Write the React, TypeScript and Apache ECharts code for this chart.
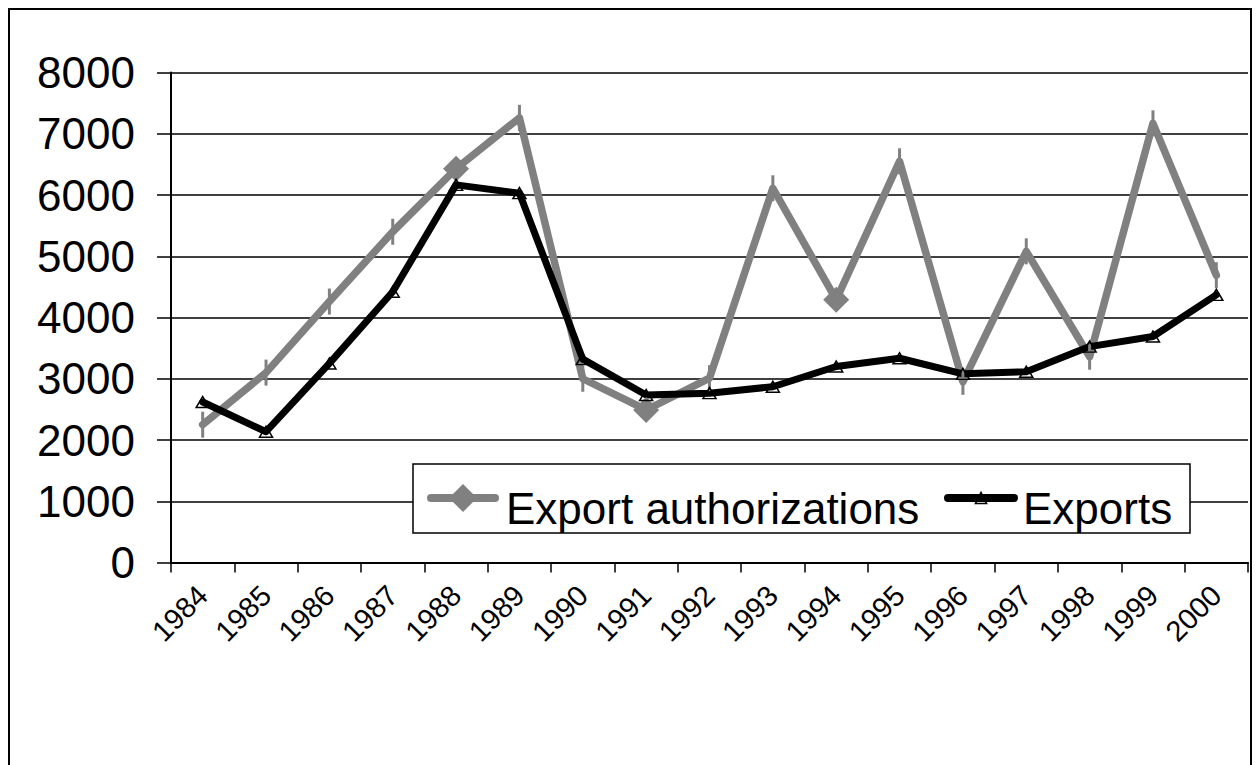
import React, { useEffect, useRef } from "react";
import * as echarts from "echarts";

const years = ["1984", "1985", "1986", "1987", "1988", "1989", "1990", "1991", "1992", "1993", "1994", "1995", "1996", "1997", "1998", "1999", "2000"];
const exportAuthorizations = [2250, 3100, 4260, 5400, 6430, 7260, 3000, 2490, 3010, 6110, 4290, 6550, 2950, 5080, 3360, 7170, 4690];
const exportsValues = [2620, 2135, 3250, 4420, 6165, 6030, 3320, 2735, 2765, 2870, 3200, 3335, 3080, 3115, 3525, 3690, 4370];
const diamondYears = ["1988", "1991", "1994"];
const yMin = 0;
const yMax = 8000;
const yInterval = 1000;
const seriesNames = ["Export authorizations", "Exports"];

const FONT = "'Liberation Sans', Arial, sans-serif";

export default function App() {
  const ref = useRef<HTMLDivElement>(null);
  useEffect(() => {
    document.documentElement.style.overflow = "hidden";
    document.body.style.overflow = "hidden";
    if (!ref.current) return;
    const chart = echarts.init(ref.current, null, { renderer: "svg" });
    const authData = exportAuthorizations.map((v, i) =>
      diamondYears.includes(years[i]) ? { value: v } : { value: v, symbol: "rect", symbolSize: [3, 26] }
    );
    const legendText = (padLeft: number) => ({
      fontSize: 44,
      color: "#000",
      fontFamily: FONT,
      rich: { t: { fontSize: 44, color: "#000", fontFamily: FONT, padding: [20, 0, 0, padLeft] } },
    });
    chart.setOption({
      animation: false,
      backgroundColor: "#fff",
      textStyle: { fontFamily: FONT },
      grid: { left: 161, top: 62.5, width: 1077, height: 490 },
      xAxis: {
        type: "category",
        data: years,
        boundaryGap: true,
        axisLine: { lineStyle: { color: "#000", width: 2 } },
        axisTick: { show: true, length: 10, lineStyle: { color: "#000", width: 1.5 } },
        axisLabel: { rotate: 45, fontSize: 29, color: "#000", margin: 28, fontFamily: FONT, interval: 0 },
        splitLine: { show: false },
      },
      yAxis: {
        type: "value",
        min: yMin,
        max: yMax,
        interval: yInterval,
        axisLine: { show: true, lineStyle: { color: "#000", width: 2 } },
        axisTick: { show: true, length: 14, lineStyle: { color: "#000", width: 1.5 } },
        axisLabel: {
          fontSize: 44,
          color: "#000",
          margin: 36,
          fontFamily: FONT,
          padding: [10, 0, 0, 0],
          formatter: (v: number) => String(v),
        },
        splitLine: { show: true, lineStyle: { color: "#000", width: 1.5 } },
      },
      legend: [
        {
          data: [seriesNames[0]],
          left: 417,
          top: 474,
          padding: 0,
          itemWidth: 64,
          itemHeight: 35,
          itemGap: 0,
          selectedMode: false,
          formatter: "{t|{name}}",
          textStyle: legendText(6),
          lineStyle: { width: 8, cap: "round" },
          itemStyle: { borderWidth: 0 },
        },
        {
          data: [seriesNames[1]],
          left: 934,
          top: 476,
          padding: 0,
          itemWidth: 66,
          itemHeight: 14,
          itemGap: 0,
          selectedMode: false,
          formatter: "{t|{name}}",
          textStyle: legendText(4),
          lineStyle: { width: 8, cap: "round" },
          itemStyle: { borderWidth: 1.5, borderColor: "#000" },
        },
      ],
      graphic: [
        {
          type: "rect",
          z: 3,
          shape: { x: 403, y: 454, width: 777, height: 69 },
          style: { fill: "#fff", stroke: "#000", lineWidth: 1.5 },
        },
      ],
      series: [
        {
          name: seriesNames[0],
          type: "line",
          data: authData,
          symbol: "diamond",
          symbolSize: 26,
          lineStyle: { color: "#808080", width: 7.5, cap: "round", join: "round" },
          itemStyle: { color: "#808080" },
          emphasis: { disabled: true },
          z: 2,
        },
        {
          name: seriesNames[1],
          type: "line",
          data: exportsValues,
          symbol: "triangle",
          symbolSize: [13, 11],
          lineStyle: { color: "#000", width: 7, cap: "round", join: "round" },
          itemStyle: { color: "transparent", borderColor: "#000", borderWidth: 1.5 },
          emphasis: { disabled: true },
          z: 2,
        },
      ],
    });
    return () => chart.dispose();
  }, []);
  return (
    <div
      ref={ref}
      style={{ width: "100%", height: 800, border: "2px solid #000", boxSizing: "border-box" }}
    />
  );
}
